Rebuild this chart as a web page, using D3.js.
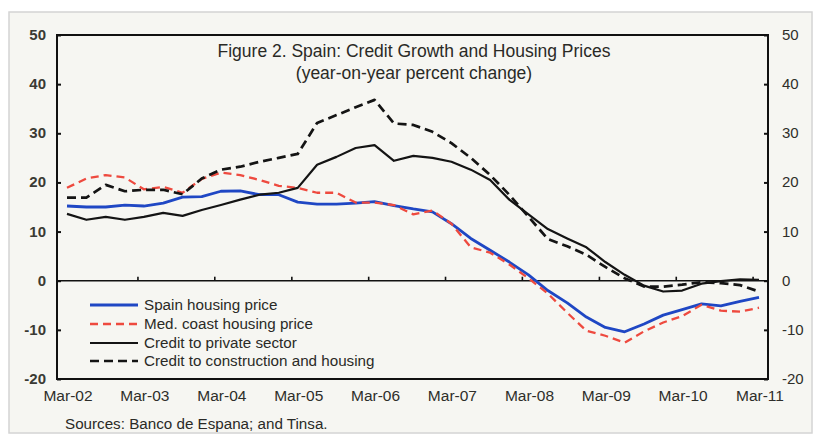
<!DOCTYPE html>
<html><head><meta charset="utf-8">
<script src="https://cdn.jsdelivr.net/npm/d3@7"></script>
<style>
html,body{margin:0;padding:0;background:#ffffff;}
svg{display:block;font-family:Arial,"Liberation Sans",sans-serif;}
</style></head>
<body>
<svg id="chart" width="820" height="443"></svg>
<script>
// ---- data (quarterly, Mar-02 .. Mar-11) ----
const quarters = d3.range(37).map(i => new Date(2002, 2 + 3 * i, 1));
const tickLabels = ["Mar-02","Mar-03","Mar-04","Mar-05","Mar-06","Mar-07","Mar-08","Mar-09","Mar-10","Mar-11"];
const yTicks = [-20, -10, 0, 10, 20, 30, 40, 50];
const seriesNames = ["Spain housing price","Med. coast housing price","Credit to private sector","Credit to construction and housing"];

const spainHousing = [15.2,15.0,15.0,15.4,15.2,15.8,17.0,17.1,18.2,18.3,17.5,17.5,16.0,15.6,15.6,15.8,16.1,15.3,14.6,14.0,11.6,8.6,6.2,3.8,1.2,-2.0,-4.5,-7.4,-9.5,-10.4,-8.8,-7.0,-5.9,-4.7,-5.1,-4.2,-3.4];
const medCoastHousing = [18.9,20.8,21.5,21.0,18.6,19.1,17.9,20.7,22.0,21.5,20.5,19.3,18.9,17.9,17.9,15.9,15.9,15.4,13.5,14.3,11.6,6.8,5.7,3.3,0.5,-2.6,-6.5,-10.2,-11.2,-12.6,-10.3,-8.5,-7.2,-4.9,-6.1,-6.3,-5.5];
const creditPrivate = [13.6,12.4,13.0,12.4,13.0,13.8,13.2,14.4,15.4,16.5,17.5,17.9,18.9,23.6,25.2,27.0,27.6,24.4,25.4,25.0,24.2,22.6,20.5,16.5,13.5,10.5,8.6,6.8,3.8,1.2,-1.0,-2.2,-2.0,-0.6,-0.1,0.3,0.2];
const creditConstruction = [16.9,16.9,19.5,18.2,18.5,18.5,17.6,20.8,22.6,23.2,24.2,25.0,25.8,32.1,33.7,35.3,36.8,32.0,31.7,30.3,28.0,25.0,21.5,17.5,13.0,8.5,7.0,5.3,2.8,0.5,-1.2,-1.2,-0.8,-0.3,-0.5,-0.9,-2.2];

// ---- layout ----
const svg = d3.select("#chart");
const L = 57, R = 768, T = 35, B = 379;

// paper panel
svg.append("rect").attr("x", 9).attr("y", 12).attr("width", 803).attr("height", 421)
  .attr("fill", "#f6f6f2").attr("stroke", "#d4d4d4").attr("stroke-width", 1.5);

const x = d3.scaleTime()
  .domain([new Date(2002, 2, 1), new Date(2011, 2, 1)])
  .range([67, 759]);
const y = d3.scaleLinear().domain([-20, 50]).range([B, T]);

// frame
svg.append("rect").attr("x", L).attr("y", T).attr("width", R - L).attr("height", B - T)
  .attr("fill", "none").attr("stroke", "#111").attr("stroke-width", 2);

// left axis
const gL = svg.append("g").attr("transform", `translate(${L},0)`)
  .call(d3.axisRight(y).tickValues(yTicks).tickSize(4).tickFormat(""));
gL.select(".domain").remove();
gL.selectAll(".tick line").attr("stroke", "#111").attr("stroke-width", 2);
svg.selectAll(".ylabL").data(yTicks).enter().append("text")
  .attr("x", 46).attr("y", d => y(d) + 5).attr("text-anchor", "end")
  .attr("font-size", 15).attr("font-weight", "bold").attr("fill", "#3a3a34").text(d => d);

// right axis
const gR = svg.append("g").attr("transform", `translate(${R},0)`)
  .call(d3.axisLeft(y).tickValues(yTicks).tickSize(4).tickFormat(""));
gR.select(".domain").remove();
gR.selectAll(".tick line").attr("stroke", "#111").attr("stroke-width", 2);
svg.selectAll(".ylabR").data(yTicks).enter().append("text")
  .attr("x", 782).attr("y", d => y(d) + 5).attr("text-anchor", "start")
  .attr("font-size", 15).attr("fill", "#2e2e2a").text(d => d);

// zero line with ticks
svg.append("line").attr("x1", L).attr("x2", R).attr("y1", y(0)).attr("y2", y(0))
  .attr("stroke", "#111").attr("stroke-width", 1.6);
const tickDates = d3.range(2003, 2012).map(yr => new Date(yr, 1, 1));
svg.selectAll(".zt").data(tickDates).enter().append("line")
  .attr("x1", d => x(d)).attr("x2", d => x(d))
  .attr("y1", y(0)).attr("y2", y(0) - 4)
  .attr("stroke", "#111").attr("stroke-width", 1.6);

// x labels
const labelDates = d3.range(2002, 2012).map(yr => new Date(yr, 2, 1));
svg.selectAll(".xl").data(labelDates).enter().append("text")
  .attr("x", d => x(d) + 1).attr("y", 401).attr("text-anchor", "middle")
  .attr("font-size", 15.5).attr("fill", "#2e2e2a").text((d, i) => tickLabels[i]);

// series
const series = [
  {vals: spainHousing, color: "#1f47c4", dash: null, w: 2.8},
  {vals: medCoastHousing, color: "#ee4a3f", dash: "8,5", w: 2.3},
  {vals: creditPrivate, color: "#141414", dash: null, w: 2.2},
  {vals: creditConstruction, color: "#141414", dash: "9,5", w: 2.7}
];
const line = d3.line().x((d, i) => x(quarters[i])).y(d => y(d));
series.forEach(s => {
  svg.append("path").datum(s.vals).attr("d", line)
    .attr("fill", "none").attr("stroke", s.color).attr("stroke-width", s.w)
    .attr("stroke-dasharray", s.dash).attr("stroke-linejoin", "round");
});

// title
svg.append("text").attr("x", 414).attr("y", 57).attr("text-anchor", "middle")
  .attr("font-size", 17.5).attr("fill", "#2a2a26").text("Figure 2. Spain: Credit Growth and Housing Prices");
svg.append("text").attr("x", 414).attr("y", 79).attr("text-anchor", "middle")
  .attr("font-size", 17.5).attr("fill", "#2a2a26").text("(year-on-year percent change)");

// legend
const legY = [305, 324, 343, 361];
series.forEach((s, i) => {
  svg.append("line").attr("x1", 90).attr("x2", 138).attr("y1", legY[i]).attr("y2", legY[i])
    .attr("stroke", s.color).attr("stroke-width", s.w).attr("stroke-dasharray", s.dash);
  svg.append("text").attr("x", 144).attr("y", legY[i] + 5)
    .attr("font-size", 15.2).attr("fill", "#2a2a26").text(seriesNames[i]);
});

// source
svg.append("text").attr("x", 65).attr("y", 429)
  .attr("font-size", 15.2).attr("fill", "#2a2a26").text("Sources: Banco de Espana; and Tinsa.");
</script>
</body></html>
